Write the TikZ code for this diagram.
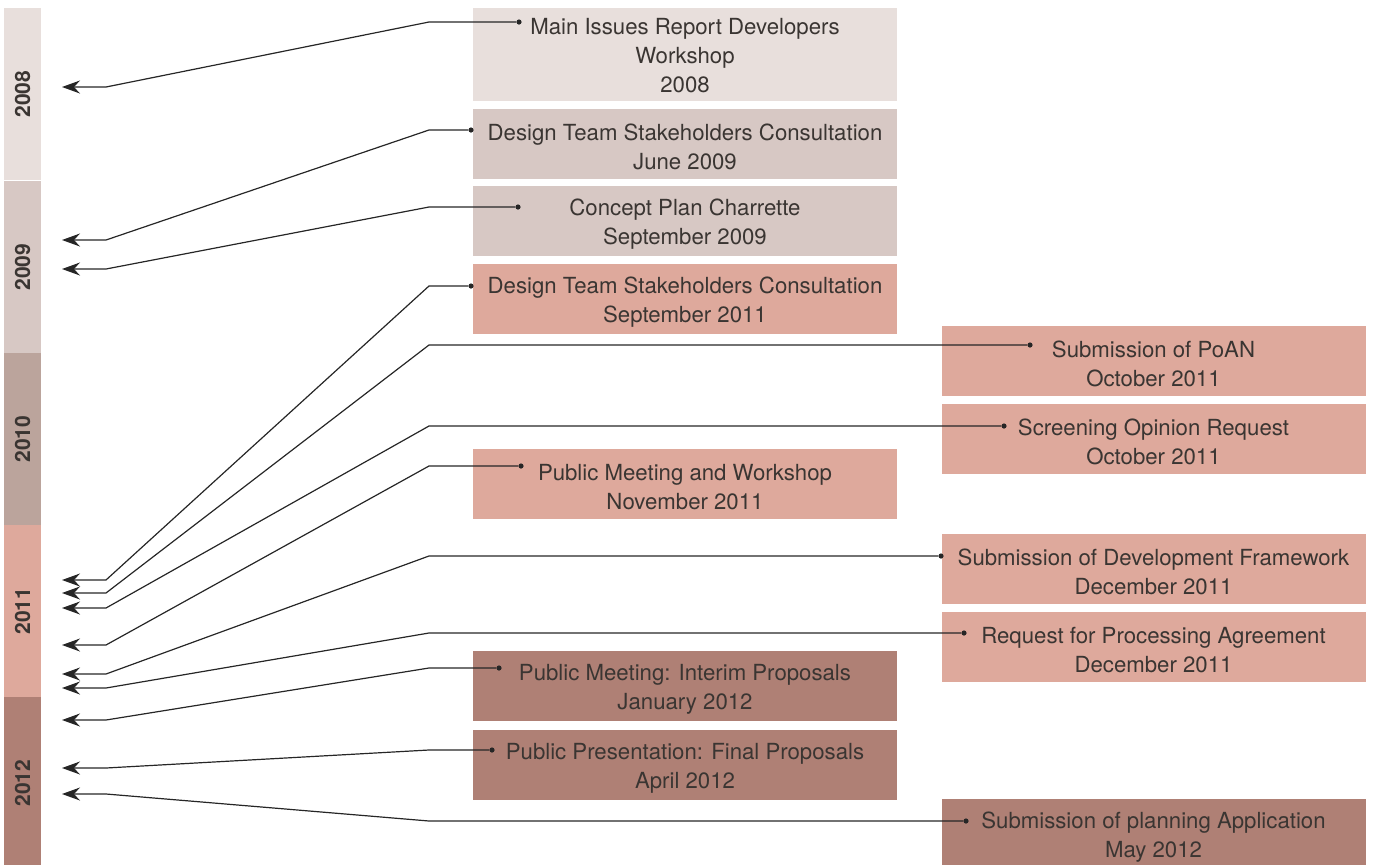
\documentclass[tikz,border=0pt]{standalone}
\usepackage{fontspec}
\setmainfont{TeX Gyre Heros}
\usetikzlibrary{arrows.meta}
\definecolor{yr2008}{HTML}{E8DFDC}
\definecolor{yr2009}{HTML}{D7C8C4}
\definecolor{yr2010}{HTML}{BBA49C}
\definecolor{yr2011}{HTML}{DEA99C}
\definecolor{yr2012}{HTML}{AF8075}
\definecolor{txt}{HTML}{3A3532}

\begin{document}
\begin{tikzpicture}[x=0.5pt,y=-0.5pt,
	bar/.style={fill=#1,rotate=90,minimum width=86pt,minimum height=18.5pt,inner sep=0pt,font=\fontsize{10.5}{12}\selectfont\bfseries,text=txt},
	event/.style={fill=#1,minimum width=212pt,minimum height=35pt,inner sep=0pt,align=center,font=\fontsize{11.1}{14.5}\selectfont,text=txt,text height=26pt},
	dot/.style={circle,fill=black!85,inner sep=0pt,minimum size=2.6pt},
	link/.style={draw=black!85,line width=0.6pt,-{Stealth[length=9pt,width=6.5pt,inset=3pt]}}]
	\useasboundingbox (0,0) rectangle (1373,864);
	
	\node[bar=yr2008] (Y8) at (22.5,94) {2008};
	\node[bar=yr2009] (Y9) at (22.5,267) {2009};
	\node[bar=yr2010] (Y10) at (22.5,439) {2010};
	\node[bar=yr2011] (Y11) at (22.5,611) {2011};
	\node[bar=yr2012] (Y12) at (22.5,783) {2012};
	
	\node[event=yr2008,minimum height=46.5pt,text height=38.5pt] (E1) at (685,54.5) {Main Issues Report Developers\\Workshop\\2008};
	\node[event=yr2009] (E2) at (685,143.5) {Design Team Stakeholders Consultation\\June 2009};
	\node[event=yr2009] (E3) at (685,221) {Concept Plan Charrette\\September 2009};
	\node[event=yr2011] (E4) at (685,299) {Design Team Stakeholders Consultation\\September 2011};
	\node[event=yr2011] (E5) at (1153.5,361) {Submission of PoAN\\October 2011};
	\node[event=yr2011] (E6) at (1153.5,439) {Screening Opinion Request\\October 2011};
	\node[event=yr2011] (E7) at (685,484) {Public Meeting and Workshop\\November 2011};
	\node[event=yr2011] (E8) at (1153.5,569) {Submission of Development Framework\\December 2011};
	\node[event=yr2011] (E9) at (1153.5,646.5) {Request for Processing Agreement\\December 2011};
	\node[event=yr2012] (E10) at (685,686) {Public Meeting: Interim Proposals\\January 2012};
	\node[event=yr2012] (E11) at (685,765) {Public Presentation: Final Proposals\\April 2012};
	\node[event=yr2012] (E12) at (1153.5,834) {Submission of planning Application\\May 2012};
	
	\node[dot] (P1) at (519,22) {};
	\node[dot] (P2) at (471,130) {};
	\node[dot] (P3) at (518,207) {};
	\node[dot] (P4) at (471,286) {};
	\node[dot] (P5) at (1030,345) {};
	\node[dot] (P6) at (1004,426) {};
	\node[dot] (P7) at (521,466) {};
	\node[dot] (P8) at (941,556) {};
	\node[dot] (P9) at (964,633) {};
	\node[dot] (P10) at (499,668) {};
	\node[dot] (P11) at (492,750) {};
	\node[dot] (P12) at (966,821) {};
	
	\coordinate (T1) at (62,87);
	\coordinate (T2) at (62,240);
	\coordinate (T3) at (62,269);
	\coordinate (T4) at (62,580);
	\coordinate (T5) at (62,593);
	\coordinate (T6) at (62,608);
	\coordinate (T7) at (62,645);
	\coordinate (T8) at (62,674);
	\coordinate (T9) at (62,688);
	\coordinate (T10) at (62,720);
	\coordinate (T11) at (62,768);
	\coordinate (T12) at (62,794);
	
	\coordinate (L) at (429,0);
	\coordinate (K) at (106,0);
	
	\draw[link] (P1) -- (P1 -| L) -- (T1 -| K) -- (T1);
	\draw[link] (P2) -- (P2 -| L) -- (T2 -| K) -- (T2);
	\draw[link] (P3) -- (P3 -| L) -- (T3 -| K) -- (T3);
	\draw[link] (P4) -- (P4 -| L) -- (T4 -| K) -- (T4);
	\draw[link] (P5) -- (P5 -| L) -- (T5 -| K) -- (T5);
	\draw[link] (P6) -- (P6 -| L) -- (T6 -| K) -- (T6);
	\draw[link] (P7) -- (P7 -| L) -- (T7 -| K) -- (T7);
	\draw[link] (P8) -- (P8 -| L) -- (T8 -| K) -- (T8);
	\draw[link] (P9) -- (P9 -| L) -- (T9 -| K) -- (T9);
	\draw[link] (P10) -- (P10 -| L) -- (T10 -| K) -- (T10);
	\draw[link] (P11) -- (P11 -| L) -- (T11 -| K) -- (T11);
	\draw[link] (P12) -- (P12 -| L) -- (T12 -| K) -- (T12);
\end{tikzpicture}
\end{document}
